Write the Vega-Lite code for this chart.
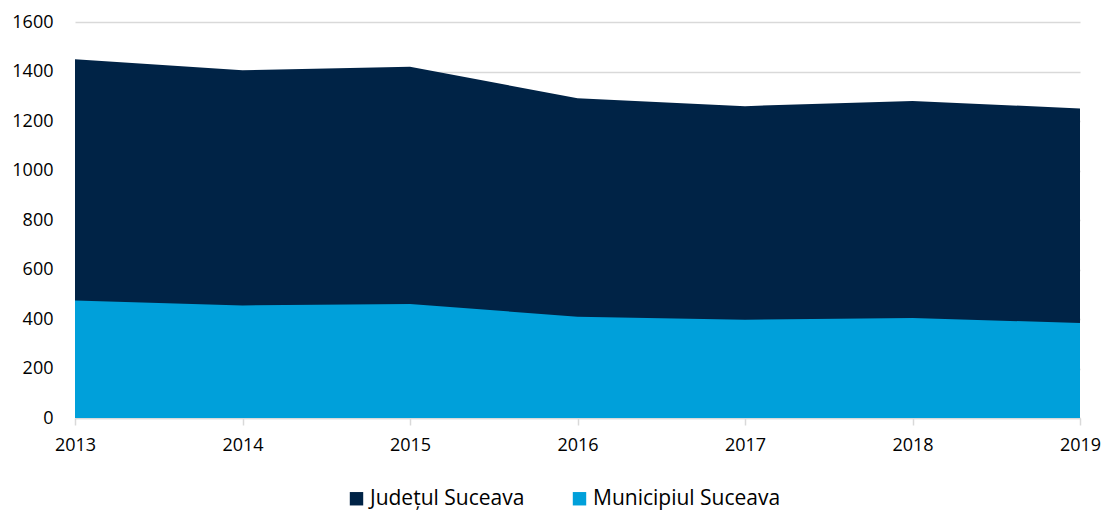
{
  "$schema": "https://vega.github.io/schema/vega-lite/v6.json",
  "width": 1005,
  "height": 396,
  "autosize": "none",
  "padding": {"left": 75, "top": 22, "right": 24, "bottom": 93},
  "background": "white",
  "config": {
    "view": {"stroke": null},
    "font": "Open Sans",
    "axis": {"labelFont": "Open Sans", "labelFontSize": 18, "labelColor": "#000000"},
    "legend": {"labelFont": "Open Sans", "labelFontSize": 21, "labelColor": "#000000"}
  },
  "data": {
    "values": [
      {"year": 2013, "series": "Județul Suceava", "value": 1449},
      {"year": 2014, "series": "Județul Suceava", "value": 1405},
      {"year": 2015, "series": "Județul Suceava", "value": 1419},
      {"year": 2016, "series": "Județul Suceava", "value": 1292},
      {"year": 2017, "series": "Județul Suceava", "value": 1260},
      {"year": 2018, "series": "Județul Suceava", "value": 1281},
      {"year": 2019, "series": "Județul Suceava", "value": 1251},
      {"year": 2013, "series": "Municipiul Suceava", "value": 475},
      {"year": 2014, "series": "Municipiul Suceava", "value": 455},
      {"year": 2015, "series": "Municipiul Suceava", "value": 461},
      {"year": 2016, "series": "Municipiul Suceava", "value": 409},
      {"year": 2017, "series": "Municipiul Suceava", "value": 397},
      {"year": 2018, "series": "Municipiul Suceava", "value": 404},
      {"year": 2019, "series": "Municipiul Suceava", "value": 384}
    ]
  },
  "encoding": {
    "x": {
      "field": "year",
      "type": "quantitative",
      "scale": {"domain": [2013, 2019], "nice": false, "zero": false},
      "axis": {
        "title": null,
        "values": [2013, 2014, 2015, 2016, 2017, 2018, 2019],
        "format": "d",
        "grid": false,
        "domainColor": "#d9d9d9",
        "domainWidth": 1.5,
        "tickColor": "#d9d9d9",
        "tickSize": 7,
        "tickWidth": 1.5,
        "labelPadding": 11,
        "labelFlush": false
      }
    },
    "y": {
      "field": "value",
      "type": "quantitative",
      "scale": {"domain": [0, 1600], "nice": false},
      "axis": {
        "title": null,
        "values": [0, 200, 400, 600, 800, 1000, 1200, 1400, 1600],
        "format": "d",
        "domain": false,
        "ticks": false,
        "gridColor": "#d9d9d9",
        "gridWidth": 1.5,
        "labelPadding": 22
      }
    },
    "color": {
      "field": "series",
      "type": "nominal",
      "scale": {
        "domain": ["Județul Suceava", "Municipiul Suceava"],
        "range": ["#002346", "#00A0DA"]
      },
      "legend": {
        "title": null,
        "orient": "none",
        "direction": "horizontal",
        "legendX": 271,
        "legendY": 466,
        "symbolType": "square",
        "symbolSize": 180,
        "symbolOpacity": 1,
        "symbolStrokeWidth": 0,
        "columnPadding": 44,
        "labelOffset": 3,
        "labelLimit": 400
      }
    }
  },
  "layer": [
    {
      "transform": [{"filter": "datum.series === 'Județul Suceava'"}],
      "mark": {"type": "area", "opacity": 1}
    },
    {
      "transform": [{"filter": "datum.series === 'Municipiul Suceava'"}],
      "mark": {"type": "area", "opacity": 1}
    }
  ]
}
